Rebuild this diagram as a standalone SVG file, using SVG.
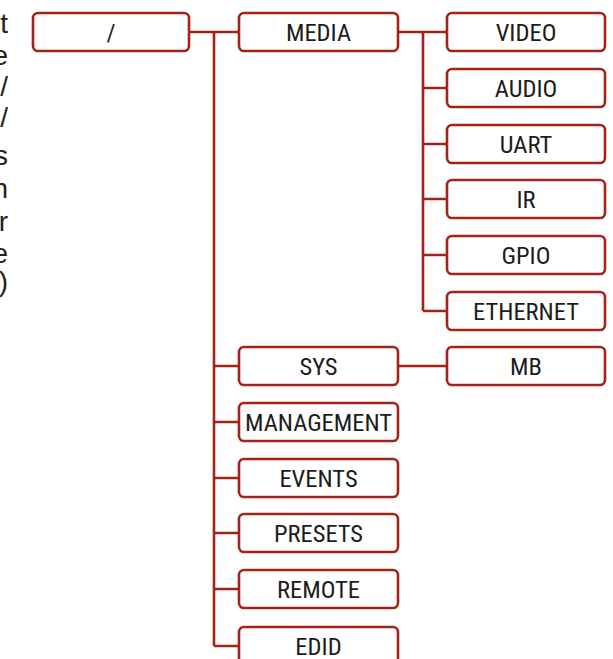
<svg xmlns="http://www.w3.org/2000/svg" width="613" height="659" viewBox="0 0 613 659">
<style>
.box{fill:#fff;stroke:#a3221a;stroke-width:2.6}
.lbl{font-family:"Roboto Condensed","Liberation Sans Narrow","DejaVu Sans Condensed","Liberation Sans",sans-serif;font-size:24.5px;font-weight:400;fill:#1c1c1c;text-anchor:middle}
.side{font-family:"Liberation Sans",Arial,sans-serif;font-size:28px;fill:#222;text-anchor:end}
.conn{fill:none;stroke:#a3221a;stroke-width:2.6}
</style>
<rect width="613" height="659" fill="#fff"/>
<g id="side-text">
<text class="side" x="8" y="33">t</text>
<text class="side" x="8" y="65">e</text>
<text class="side" x="8" y="96">/</text>
<text class="side" x="8" y="127">/</text>
<text class="side" x="8" y="165">s</text>
<text class="side" x="8" y="198">n</text>
<text class="side" x="8" y="231">r</text>
<text class="side" x="8" y="263">e</text>
<text class="side" x="8" y="291">)</text>
</g>
<g id="connectors">
<path class="conn" d="M189 32H239M214 32V646"/>
<path class="conn" d="M214 366H239M214 422H239M214 478H239M214 533H239M214 589H239M214 646H239"/>
<path class="conn" d="M398 32H447M423 32V311"/>
<path class="conn" d="M423 88H447M423 144H447M423 199H447M423 255H447M423 311H447"/>
<path class="conn" d="M398 366H447"/>
</g>
<g id="root"><rect class="box" x="33" y="13" width="156" height="38" rx="5"/><text class="lbl" x="111" y="41">/</text></g>
<g id="media"><rect class="box" x="239" y="13" width="159" height="38" rx="5"/><text class="lbl" x="318.5" y="41">MEDIA</text></g>
<g id="video"><rect class="box" x="447" y="13" width="158" height="38" rx="5"/><text class="lbl" x="526" y="41">VIDEO</text></g>
<g id="audio"><rect class="box" x="447" y="69" width="158" height="38" rx="5"/><text class="lbl" x="526" y="97">AUDIO</text></g>
<g id="uart"><rect class="box" x="447" y="125" width="158" height="38" rx="5"/><text class="lbl" x="526" y="153">UART</text></g>
<g id="ir"><rect class="box" x="447" y="180" width="158" height="38" rx="5"/><text class="lbl" x="526" y="208">IR</text></g>
<g id="gpio"><rect class="box" x="447" y="236" width="158" height="38" rx="5"/><text class="lbl" x="526" y="264">GPIO</text></g>
<g id="ethernet"><rect class="box" x="447" y="292" width="158" height="38" rx="5"/><text class="lbl" x="526" y="320">ETHERNET</text></g>
<g id="sys"><rect class="box" x="239" y="347" width="159" height="38" rx="5"/><text class="lbl" x="318.5" y="375">SYS</text></g>
<g id="mb"><rect class="box" x="447" y="347" width="158" height="38" rx="5"/><text class="lbl" x="526" y="375">MB</text></g>
<g id="management"><rect class="box" x="239" y="403" width="159" height="38" rx="5"/><text class="lbl" x="318.5" y="431">MANAGEMENT</text></g>
<g id="events"><rect class="box" x="239" y="459" width="159" height="38" rx="5"/><text class="lbl" x="318.5" y="487">EVENTS</text></g>
<g id="presets"><rect class="box" x="239" y="514" width="159" height="38" rx="5"/><text class="lbl" x="318.5" y="542">PRESETS</text></g>
<g id="remote"><rect class="box" x="239" y="570" width="159" height="38" rx="5"/><text class="lbl" x="318.5" y="598">REMOTE</text></g>
<g id="edid"><rect class="box" x="239" y="627" width="159" height="38" rx="5"/><text class="lbl" x="318.5" y="655">EDID</text></g>
</svg>
